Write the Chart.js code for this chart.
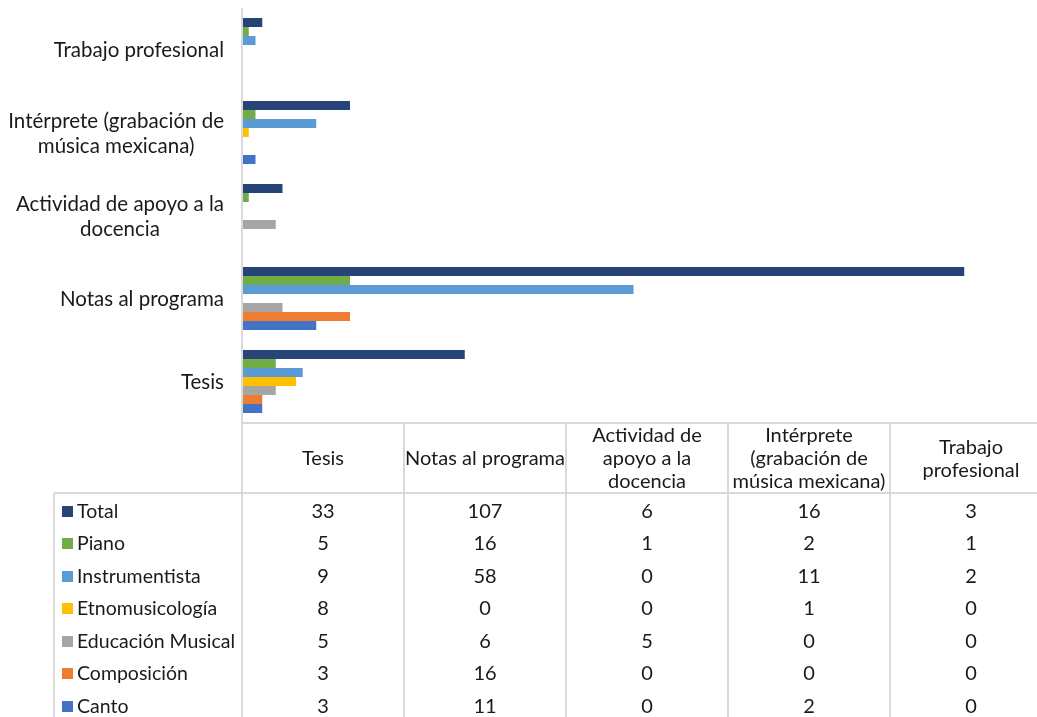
<!DOCTYPE html>
<html>
<head>
<meta charset="utf-8">
<script src="https://cdn.jsdelivr.net/npm/chart.js@4"></script>
<style>
  html, body { margin: 0; padding: 0; background: #fff; overflow: hidden; }
  #wrap { width: 1037px; height: 717px; overflow: hidden; }
</style>
</head>
<body>
<div id="wrap"><canvas id="bar-chart" width="1060" height="717"></canvas></div>
<script>
// categories, in the order of the data table columns
const categories = ["Tesis", "Notas al programa", "Actividad de apoyo a la docencia",
  "Intérprete (grabación de música mexicana)", "Trabajo profesional"];
// axis labels (left of the bars) and table header labels, split in lines
const axisLabels = [["Tesis"], ["Notas al programa"], ["Actividad de apoyo a la", "docencia"],
  ["Intérprete (grabación de", "música mexicana)"], ["Trabajo profesional"]];
const headerLabels = [["Tesis"], ["Notas al programa"], ["Actividad de", "apoyo a la", "docencia"],
  ["Intérprete", "(grabación de", "música mexicana)"], ["Trabajo", "profesional"]];

const seriesNames = ["Total", "Piano", "Instrumentista", "Etnomusicología",
  "Educación Musical", "Composición", "Canto"];
const total = [33, 107, 6, 16, 3];
const piano = [5, 16, 1, 2, 1];
const instrumentista = [9, 58, 0, 11, 2];
const etnomusicologia = [8, 0, 0, 1, 0];
const educacionMusical = [5, 6, 5, 0, 0];
const composicion = [3, 16, 0, 0, 0];
const canto = [3, 11, 0, 2, 0];
const seriesColors = ["#264478", "#70AD47", "#5B9BD5", "#FFC000", "#A5A5A5", "#ED7D31", "#4472C4"];

const seriesValues = [total, piano, instrumentista, etnomusicologia, educacionMusical, composicion, canto];
const FONT = "Lato, 'Noto Sans', sans-serif";
const TEXT = "#1a1a1a";
const GRID = "#D9D9D9";

// bars run from the bottom category (Tesis) up, so the y labels are reversed
const yOrder = categories.map((c, i) => categories.length - 1 - i);

const tablePlugin = {
  id: "tablePlugin",
  afterDraw(chart) {
    const ctx = chart.ctx;
    const area = chart.chartArea;
    const yScale = chart.scales.y;
    const colW = (area.right - area.left) / categories.length;
    const headerTop = area.bottom;
    const headerBottom = headerTop + 70;
    const rowH = 32.5;
    const legendLeft = 54;
    const bottom = chart.height;

    ctx.save();
    // grid lines
    ctx.strokeStyle = GRID;
    ctx.lineWidth = 2;
    ctx.beginPath();
    ctx.moveTo(area.left, area.top); ctx.lineTo(area.left, bottom);
    ctx.moveTo(area.left, headerTop); ctx.lineTo(area.right, headerTop);
    ctx.moveTo(legendLeft, headerBottom); ctx.lineTo(area.right, headerBottom);
    ctx.moveTo(legendLeft, headerBottom); ctx.lineTo(legendLeft, bottom);
    for (let i = 1; i <= categories.length; i++) {
      const x = Math.round(area.left + colW * i);
      ctx.moveTo(x, headerTop); ctx.lineTo(x, bottom);
    }
    ctx.stroke();

    ctx.fillStyle = TEXT;
    ctx.textBaseline = "middle";

    // y axis labels: block right aligned, lines centred inside the block
    ctx.font = "20.5px " + FONT;
    const lineH = 25;
    axisLabels.forEach((lines, i) => {
      const yc = yScale.getPixelForValue(yOrder[i]) + 1;
      const maxW = Math.max(...lines.map(l => ctx.measureText(l).width));
      const cx = area.left - 18 - maxW / 2;
      ctx.textAlign = "center";
      lines.forEach((l, k) => {
        ctx.fillText(l, cx, yc + (k - (lines.length - 1) / 2) * lineH);
      });
    });

    // header
    ctx.font = "20px " + FONT;
    const hLineH = 23;
    headerLabels.forEach((lines, i) => {
      const cx = area.left + colW * (i + 0.5);
      const yc = (headerTop + headerBottom) / 2 + 1;
      ctx.textAlign = "center";
      lines.forEach((l, k) => {
        ctx.fillText(l, cx, yc + (k - (lines.length - 1) / 2) * hLineH);
      });
    });

    // rows with legend keys
    seriesNames.forEach((name, r) => {
      const yc = headerBottom + rowH * (r + 0.5) + 2;
      ctx.fillStyle = seriesColors[r];
      ctx.fillRect(62, Math.round(yc - 5.5), 11, 11);
      ctx.fillStyle = TEXT;
      ctx.textAlign = "left";
      ctx.font = "19.5px " + FONT;
      ctx.fillText(name, 77, yc);
      ctx.font = "20px " + FONT;
      ctx.textAlign = "center";
      seriesValues[r].forEach((v, i) => {
        ctx.fillText(String(v), area.left + colW * (i + 0.5), yc);
      });
    });
    ctx.restore();
  }
};

const ctx = document.getElementById("bar-chart").getContext("2d");
new Chart(ctx, {
  type: "bar",
  data: {
    labels: yOrder.map(i => categories[i]),
    datasets: seriesNames.map((name, s) => ({
      label: name,
      data: yOrder.map(i => seriesValues[s][i]),
      backgroundColor: seriesColors[s],
      borderWidth: 0,
      categoryPercentage: 63 / 83,
      barPercentage: 1,
    })),
  },
  options: {
    indexAxis: "y",
    responsive: false,
    animation: false,
    layout: { padding: { left: 242, top: 8, right: 8, bottom: 294 } },
    plugins: { legend: { display: false }, tooltip: { enabled: false } },
    scales: {
      x: { display: false, min: 0, max: 120 },
      y: { display: false },
    },
  },
  plugins: [tablePlugin],
});
</script>
</body>
</html>
